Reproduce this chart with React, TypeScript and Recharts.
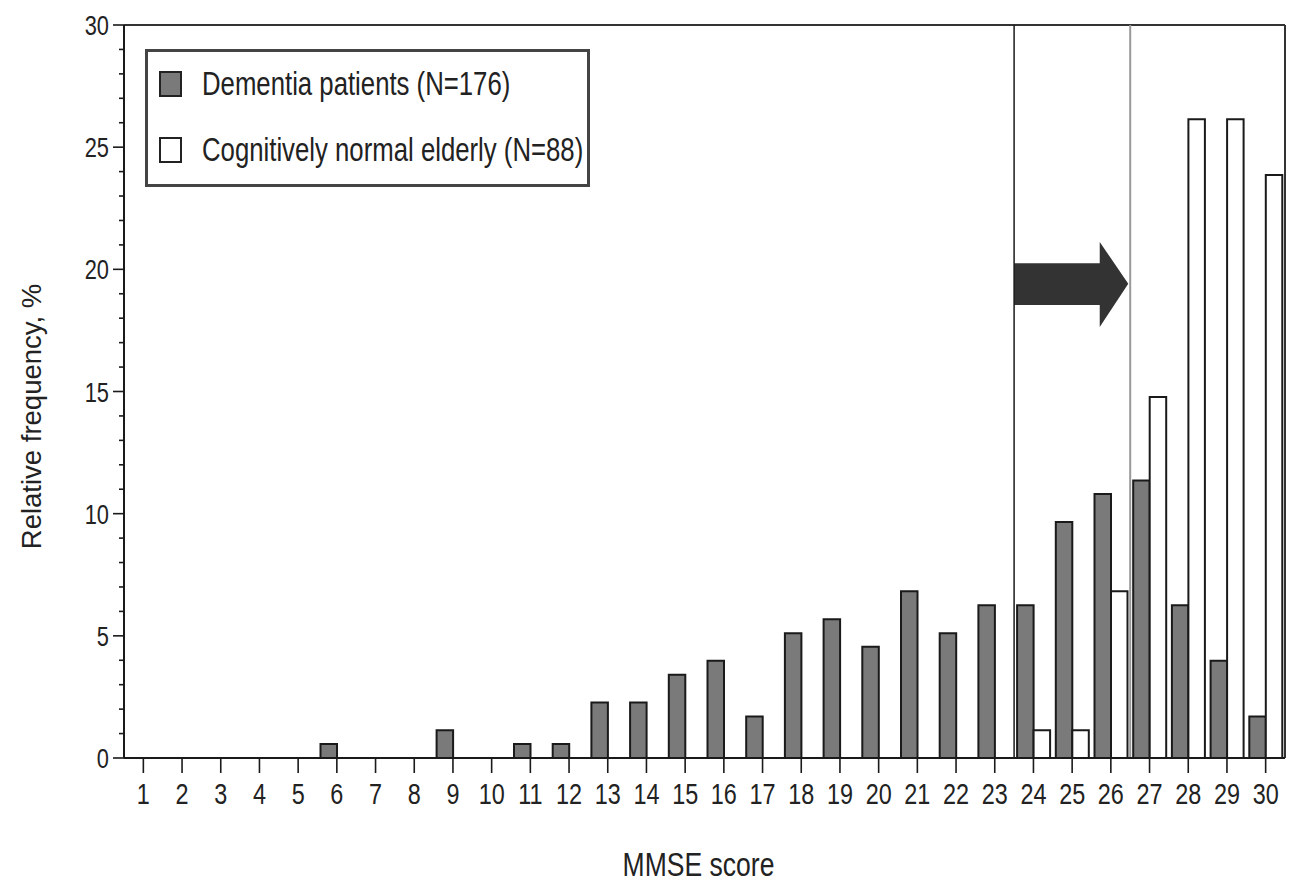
import React from 'react';
import {
  ComposedChart,
  Bar,
  XAxis,
  YAxis,
  ReferenceLine,
  ReferenceArea,
  Legend,
  Label,
} from 'recharts';

const SCORES = [1, 2, 3, 4, 5, 6, 7, 8, 9, 10, 11, 12, 13, 14, 15, 16, 17, 18, 19, 20, 21, 22, 23, 24, 25, 26, 27, 28, 29, 30];
const DEMENTIA = [0, 0, 0, 0, 0, 0.57, 0, 0, 1.14, 0, 0.57, 0.57, 2.27, 2.27, 3.41, 3.98, 1.7, 5.11, 5.68, 4.55, 6.82, 5.11, 6.25, 6.25, 9.66, 10.8, 11.36, 6.25, 3.98, 1.7];
const NORMAL = [0, 0, 0, 0, 0, 0, 0, 0, 0, 0, 0, 0, 0, 0, 0, 0, 0, 0, 0, 0, 0, 0, 0, 1.14, 1.14, 6.82, 14.77, 26.14, 26.14, 23.86];
const Y_TICKS = [0, 1, 2, 3, 4, 5, 6, 7, 8, 9, 10, 11, 12, 13, 14, 15, 16, 17, 18, 19, 20, 21, 22, 23, 24, 25, 26, 27, 28, 29, 30];
const CUTOFFS = [23.5, 26.5];

const SERIES = [
  { key: 'dementia', label: 'Dementia patients (N=176)', fill: '#7a7a7a' },
  { key: 'normal', label: 'Cognitively normal elderly (N=88)', fill: '#ffffff' },
];

const data = SCORES.map((s, i) => ({ score: s, dementia: DEMENTIA[i], normal: NORMAL[i] }));

// the original uses a condensed face; Liberation Sans squeezed horizontally is close
const SANS = "'Liberation Sans', Arial, sans-serif";
const SQUEEZE = 0.78;
const INK = '#1a1a1a';

function YTick({ x, y, payload }: any) {
  const v = payload.value;
  const major = v % 5 === 0;
  return (
    <g>
      <line x1={x - (major ? 11 : 5)} x2={x} y1={y} y2={y} stroke={INK} strokeWidth={1.6} />
      {major && (
        <text
          transform={`translate(${x - 15},${y}) scale(${SQUEEZE},1)`}
          dy="0.36em"
          textAnchor="end"
          fontSize={28}
          fontFamily={SANS}
          fill="#222"
        >
          {v}
        </text>
      )}
    </g>
  );
}

function XTick({ x, y, payload }: any) {
  return (
    <g>
      <line x1={x} x2={x} y1={y} y2={y + 15} stroke={INK} strokeWidth={1.6} />
      <text
        transform={`translate(${x},${y + 46}) scale(${SQUEEZE},1)`}
        textAnchor="middle"
        fontSize={30}
        fontFamily={SANS}
        fill="#222"
      >
        {payload.value}
      </text>
    </g>
  );
}

// block arrow drawn inside the reference area box
function Arrow({ x, y, width, height }: any) {
  const headX = x + width * 0.75;
  const pts = [
    [x, y + height * 0.25],
    [headX, y + height * 0.25],
    [headX, y],
    [x + width, y + height * 0.49],
    [headX, y + height],
    [headX, y + height * 0.74],
    [x, y + height * 0.74],
  ];
  return <polygon points={pts.map(p => p.join(',')).join(' ')} fill="#333" />;
}

function LegendBox() {
  return (
    <div
      style={{
        boxSizing: 'border-box',
        width: 445,
        height: 138,
        border: '3px solid #444',
        background: '#fff',
        padding: '19px 0 0 11px',
        display: 'flex',
        flexDirection: 'column',
        gap: 40,
      }}
    >
      {SERIES.map(s => (
        <div key={s.key} style={{ display: 'flex', alignItems: 'center', height: 26 }}>
          <span
            style={{
              boxSizing: 'border-box',
              flexShrink: 0,
              width: 23,
              height: 26,
              border: '2px solid #222',
              background: s.fill,
              marginRight: 20,
            }}
          />
          <span
            style={{
              display: 'inline-block',
              fontFamily: SANS,
              fontSize: 33,
              color: '#222',
              lineHeight: '26px',
              whiteSpace: 'nowrap',
              transform: `scaleX(${SQUEEZE})`,
              transformOrigin: 'left center',
            }}
          >
            {s.label}
          </span>
        </div>
      ))}
    </div>
  );
}

function YTitle({ viewBox }: any) {
  const cx = 31;
  const cy = viewBox.y + viewBox.height / 2 + 25;
  return (
    <text
      x={cx}
      y={cy}
      transform={`rotate(-90 ${cx} ${cy})`}
      textAnchor="middle"
      dy="0.36em"
      fontSize={27.5}
      fontFamily={SANS}
      fill="#222"
    >
      Relative frequency, %
    </text>
  );
}

function XTitle({ viewBox }: any) {
  const cx = viewBox.x + viewBox.width / 2 - 6;
  const cy = 876;
  return (
    <text
      transform={`translate(${cx},${cy}) scale(${SQUEEZE},1)`}
      textAnchor="middle"
      fontSize={34}
      fontFamily={SANS}
      fill="#222"
    >
      MMSE score
    </text>
  );
}

export default function App() {
  return (
    <div style={{ position: 'absolute', left: 0, top: 0, width: 1296, height: 882, background: '#fff' }}>
      <ComposedChart
        width={1296}
        height={882}
        data={data}
        margin={{ top: 25, right: 11, bottom: 64, left: 24 }}
        barGap={0}
      >
        <XAxis
          dataKey="score"
          type="number"
          domain={[0.5, 30.5]}
          ticks={SCORES}
          interval={0}
          allowDataOverflow
          tickSize={0}
          tickMargin={0}
          tickLine={false}
          tick={<XTick />}
          height={60}
          axisLine={{ stroke: INK, strokeWidth: 2 }}
        >
          <Label content={<XTitle />} />
        </XAxis>
        <YAxis
          type="number"
          domain={[0, 30]}
          ticks={Y_TICKS}
          interval={0}
          allowDataOverflow
          tickSize={0}
          tickMargin={0}
          tickLine={false}
          tick={<YTick />}
          width={100}
          axisLine={{ stroke: INK, strokeWidth: 2 }}
        >
          <Label content={<YTitle />} />
        </YAxis>

        <ReferenceLine y={30} stroke="#333" strokeWidth={2} />
        <ReferenceLine x={30.5} stroke="#333" strokeWidth={2} />
        <ReferenceLine x={CUTOFFS[0]} stroke={INK} strokeWidth={1.5} />
        <ReferenceLine x={CUTOFFS[1]} stroke="#999" strokeWidth={2} />
        <ReferenceArea x1={23.5} x2={26.45} y1={17.64} y2={21.12} shape={<Arrow />} />

        <Legend
          layout="horizontal"
          verticalAlign="middle"
          align="center"
          content={<LegendBox />}
          wrapperStyle={{ left: 145, top: 49, width: 445, height: 138 }}
        />

        <Bar dataKey="dementia" name={SERIES[0].label} fill={SERIES[0].fill} stroke={INK} strokeWidth={2} barSize={16.5} isAnimationActive={false} />
        <Bar dataKey="normal" name={SERIES[1].label} fill={SERIES[1].fill} stroke={INK} strokeWidth={2} barSize={16.5} isAnimationActive={false} />
      </ComposedChart>
    </div>
  );
}
